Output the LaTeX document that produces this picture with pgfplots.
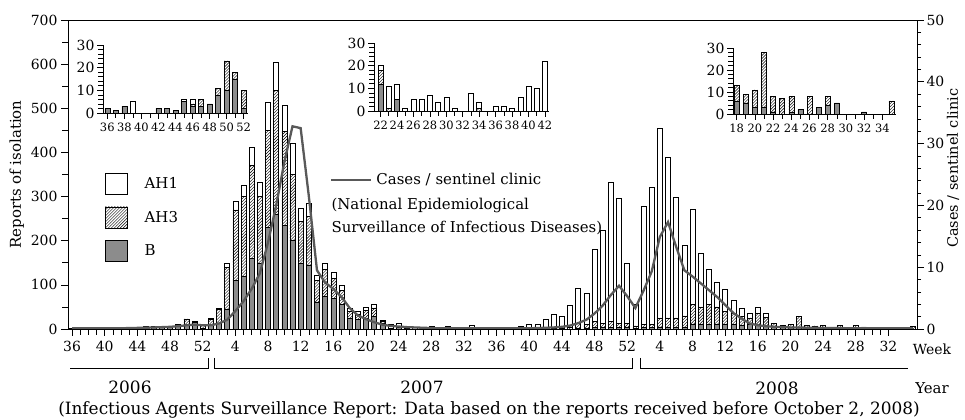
\documentclass[border=0pt]{standalone}
\usepackage{fontspec}
\setmainfont{DejaVu Serif}
\usepackage{pgfplots}
\pgfplotsset{compat=1.18}
\usepackage{pgfplotstable}
\usetikzlibrary{patterns}

\pgfplotstableread{
i B H3 H1
0 2 0 0
1 1 0 0
2 3 0 0
3 0 0 5
4 0 0 0
5 0 0 0
6 2 0 0
7 2 0 0
8 1 0 0
9 5 0 1
10 3 1 2
11 3 3 0
12 4 0 0
13 8 3 0
14 10 13 0
15 15 3 0
16 2 8 0
17 8 14 2
18 12 33 2
19 45 95 10
20 110 160 20
21 120 180 26
22 160 210 42
23 150 150 33
24 230 220 64
25 260 280 65
26 235 212 60
27 200 150 71
28 150 94 30
29 145 110 30
30 60 50 12
31 75 60 15
32 70 45 14
33 55 32 12
34 25 15 7
35 22 12 6
36 25 18 7
37 28 20 7
38 12 6 2
39 0 1 10
40 5 0 7
41 0 0 1
42 0 0 5
43 0 0 5
44 0 0 7
45 0 0 4
46 0 0 6
47 0 0 1
48 0 0 0
49 0 0 8
50 0 1 3
51 0 0 0
52 0 0 2
53 0 0 2
54 0 0 1
55 0 0 6
56 0 0 11
57 0 0 10
58 0 0 22
59 0 2 32
60 0 2 28
61 0 4 50
62 2 10 80
63 2 8 72
64 3 15 163
65 3 10 211
66 3 15 315
67 3 10 284
68 3 10 137
69 2 5 48
70 3 8 266
71 3 8 311
72 5 20 430
73 5 20 365
74 5 20 274
75 5 25 160
76 10 45 216
77 10 40 122
78 10 45 80
79 10 40 55
80 10 30 50
81 10 25 31
82 8 20 19
83 10 15 10
84 10 25 14
85 8 18 10
86 6 7 0
87 5 4 0
88 3 8 0
89 3 25 0
90 1 7 0
91 0 7 0
92 1 7 0
93 2 0 0
94 0 8 0
95 3 0 0
96 4 4 0
97 5 0 0
98 0 0 0
99 0 0 0
100 1 0 0
101 0 0 0
102 0 0 0
103 0 6 0
}\mainbars

\pgfplotstableread{
i c
0 0.1
1 0.1
2 0.1
3 0.1
4 0.1
5 0.1
6 0.12
7 0.15
8 0.18
9 0.2
10 0.25
11 0.3
12 0.35
13 0.45
14 0.6
15 0.7
16 0.6
17 0.6
18 0.9
19 1.5
20 2.9
21 4.5
22 6.5
23 9
24 14
25 20
26 27
27 32.8
28 32.5
29 21.5
30 9.5
31 7.5
32 6.5
33 5.2
34 3.4
35 2.2
36 1.6
37 1.1
38 0.7
39 0.5
40 0.4
41 0.3
42 0.25
43 0.2
44 0.15
45 0.12
46 0.1
47 0.1
48 0.1
49 0.1
50 0.1
51 0.1
52 0.1
53 0.1
54 0.1
55 0.1
56 0.12
57 0.15
58 0.2
59 0.25
60 0.35
61 0.55
62 0.95
63 1.5
64 2.5
65 3.8
66 5.5
67 7.0
68 5.3
69 3.4
70 6.2
71 9.3
72 14.9
73 17.3
74 13.3
75 9.5
76 8.5
77 7.4
78 6.3
79 5.2
80 3.9
81 2.6
82 1.7
83 0.9
84 0.6
85 0.45
86 0.35
87 0.3
88 0.25
89 0.25
90 0.2
91 0.2
92 0.15
93 0.15
94 0.15
95 0.12
96 0.12
97 0.1
98 0.1
99 0.1
100 0.1
101 0.1
102 0.1
103 0.1
}\cases

\pgfplotstableread{
w B H3 H1
36 2 0 0
37 1 0 0
38 3 0 0
39 0 0 5
40 0 0 0
41 0 0 0
42 2 0 0
43 2 0 0
44 1 0 0
45 5 0 1
46 3 1 2
47 3 3 0
48 4 0 0
49 8 3 0
50 10 13 0
51 15 3 0
52 2 8 0
}\insetA

\pgfplotstableread{
w B H3 H1
22 12 6 2
23 0 1 10
24 5 0 7
25 0 0 1
26 0 0 5
27 0 0 5
28 0 0 7
29 0 0 4
30 0 0 6
31 0 0 1
32 0 0 0
33 0 0 8
34 0 1 3
35 0 0 0
36 0 0 2
37 0 0 2
38 0 0 1
39 0 0 6
40 0 0 11
41 0 0 10
42 0 0 22
}\insetB

\pgfplotstableread{
w B H3 H1
18 6 7 0
19 5 4 0
20 3 8 0
21 3 25 0
22 1 7 0
23 0 7 0
24 1 7 0
25 2 0 0
26 0 8 0
27 3 0 0
28 4 4 0
29 5 0 0
30 0 0 0
31 0 0 0
32 1 0 0
33 0 0 0
34 0 0 0
35 0 6 0
}\insetC

\pgfplotsset{
  bstyle/.style={fill=black!45, draw=black, line width=0.5bp},
  hstyle/.style={pattern=north east lines, draw=black, line width=0.5bp},
  wstyle/.style={fill=white, draw=black, line width=0.5bp},
  inset/.style={
    scale only axis, anchor=south west,
    ybar stacked, bar width=5bp,
    ymin=0, ymax=30,
    axis x line*=bottom, axis y line*=left,
    axis line style={-, line width=0.7bp},
    ytick={0,10,20,30}, minor y tick num=4,
    minor x tick num=1,
    tick align=outside,
    major tick length=6bp, minor tick length=5bp,
    tick style={black, line width=0.6bp},
    /pgf/number format/assume math mode=true,
    yticklabel style={font=\fontsize{14}{16}\selectfont, xshift=1bp},
    xticklabel style={font=\fontsize{11.5}{13}\selectfont},
  },
}

\begin{document}
\begin{tikzpicture}
\useasboundingbox (0,0) rectangle (965bp,420bp);

% main axis (reports of isolation)
\begin{axis}[
  at={(68bp,91bp)}, anchor=south west, scale only axis,
  width=849bp, height=309bp,
  xmin=-0.5, xmax=103.5, ymin=0, ymax=700,
  ybar stacked, bar width=5bp,
  axis line style={line width=0.9bp},
  xtick={0,4,...,100},
  xticklabels={36,40,44,48,52,4,8,12,16,20,24,28,32,36,40,44,48,52,4,8,12,16,20,24,28,32},
  minor x tick num=3,
  ytick={0,100,...,700}, minor y tick num=1,
  xtick pos=left, ytick pos=left,
  tick align=outside,
  major tick length=7bp, minor tick length=6bp,
  tick style={black, line width=0.6bp},
  /pgf/number format/assume math mode=true,
  tick label style={font=\fontsize{14}{16}\selectfont},
  xticklabel style={yshift=-2bp},
  ylabel={Reports of isolation},
  ylabel style={font=\fontsize{15}{17}\selectfont},
  legend cell align=left,
  reverse legend,
  legend image code/.code={\draw[#1] (0bp,-10.5bp) rectangle (22bp,10.5bp);},
  legend style={at={(0.0436,0.505)}, anchor=north west, draw=none, fill=none,
    inner sep=0pt, row sep=12bp, font=\fontsize{15}{17}\selectfont,
    /tikz/every odd column/.append style={column sep=15bp}},
]
\addplot[bstyle] table[x=i, y=B]{\mainbars};
\addlegendentry{B}
\addplot[hstyle] table[x=i, y=H3]{\mainbars};
\addlegendentry{AH3}
\addplot[wstyle] table[x=i, y=H1]{\mainbars};
\addlegendentry{AH1}
\end{axis}

% secondary axis (cases per sentinel clinic)
\begin{axis}[
  at={(68bp,91bp)}, anchor=south west, scale only axis,
  width=849bp, height=309bp,
  xmin=-0.5, xmax=103.5, ymin=0, ymax=50,
  axis y line*=right, axis x line=none,
  axis line style={-, line width=0.9bp},
  ytick={0,10,...,50}, minor y tick num=4,
  tick align=outside,
  major tick length=7bp, minor tick length=4bp,
  tick style={black, line width=0.6bp},
  /pgf/number format/assume math mode=true,
  tick label style={font=\fontsize{14}{16}\selectfont},
  yticklabel style={xshift=-1bp},
  ylabel={Cases / sentinel clinic},
  every axis y label/.style={at={(rel axis cs:1,0.52)}, rotate=90, anchor=center,
    yshift=-36bp, font=\fontsize{14.5}{16}\selectfont},
  legend image code/.code={\draw[#1] (0bp,0bp) -- (40bp,0bp);},
  legend style={at={(0.3086,0.482)}, anchor=west, draw=none, fill=none,
    inner sep=0pt, font=\fontsize{15}{17}\selectfont,
    /tikz/every odd column/.append style={column sep=2bp}},
]
\addplot[black!65, line width=2.3bp, mark=none] table[x=i, y=c]{\cases};
\addlegendentry{Cases / sentinel clinic}
\end{axis}

% inset 1: 2006 weeks 36-52
\begin{axis}[inset, at={(103bp,307bp)}, width=145bp, height=68bp,
  xmin=35.5, xmax=52.5, xtick={36,38,...,52}]
\addplot[bstyle] table[x=w, y=B]{\insetA};
\addplot[hstyle] table[x=w, y=H3]{\insetA};
\addplot[wstyle] table[x=w, y=H1]{\insetA};
\end{axis}

% inset 2: 2007 weeks 22-42
\begin{axis}[inset, at={(374bp,309bp)}, width=175bp, height=68bp,
  xmin=21.2, xmax=42.5, xtick={22,24,...,42}]
\addplot[bstyle] table[x=w, y=B]{\insetB};
\addplot[hstyle] table[x=w, y=H3]{\insetB};
\addplot[wstyle] table[x=w, y=H1]{\insetB};
\end{axis}

% inset 3: 2008 weeks 18-35
\begin{axis}[inset, at={(733bp,306bp)}, width=163bp, height=66bp,
  xmin=17.6, xmax=35.5, xtick={18,20,...,34}]
\addplot[bstyle] table[x=w, y=B]{\insetC};
\addplot[hstyle] table[x=w, y=H3]{\insetC};
\addplot[wstyle] table[x=w, y=H1]{\insetC};
\end{axis}

% texts
\node[anchor=west, font=\fontsize{15}{17}\selectfont] at (328bp,215bp) {(National Epidemiological};
\node[anchor=west, font=\fontsize{15}{17}\selectfont] at (328bp,192bp) {Surveillance of Infectious Diseases)};
\node[font=\fontsize{14}{16}\selectfont] at (932bp,71bp) {Week};
\node[font=\fontsize{15}{17}\selectfont] at (932bp,32bp) {Year};
\node[font=\fontsize{17}{19}\selectfont] at (130bp,33bp) {2006};
\node[font=\fontsize{17}{19}\selectfont] at (422bp,33bp) {2007};
\node[font=\fontsize{17}{19}\selectfont] at (777bp,32bp) {2008};
\node[font=\fontsize{17}{19}\selectfont] at (489bp,10bp) {(Infectious Agents Surveillance Report: Data based on the reports received before October 2, 2008)};

% year brackets
\draw[line width=0.7bp] (70bp,52bp) -- (208bp,52bp) -- (208bp,62bp);
\draw[line width=0.7bp] (214bp,62bp) -- (214bp,52bp) -- (632bp,52bp) -- (632bp,62bp);
\draw[line width=0.7bp] (640bp,62bp) -- (640bp,52bp) -- (908bp,52bp);
\end{tikzpicture}
\end{document}
